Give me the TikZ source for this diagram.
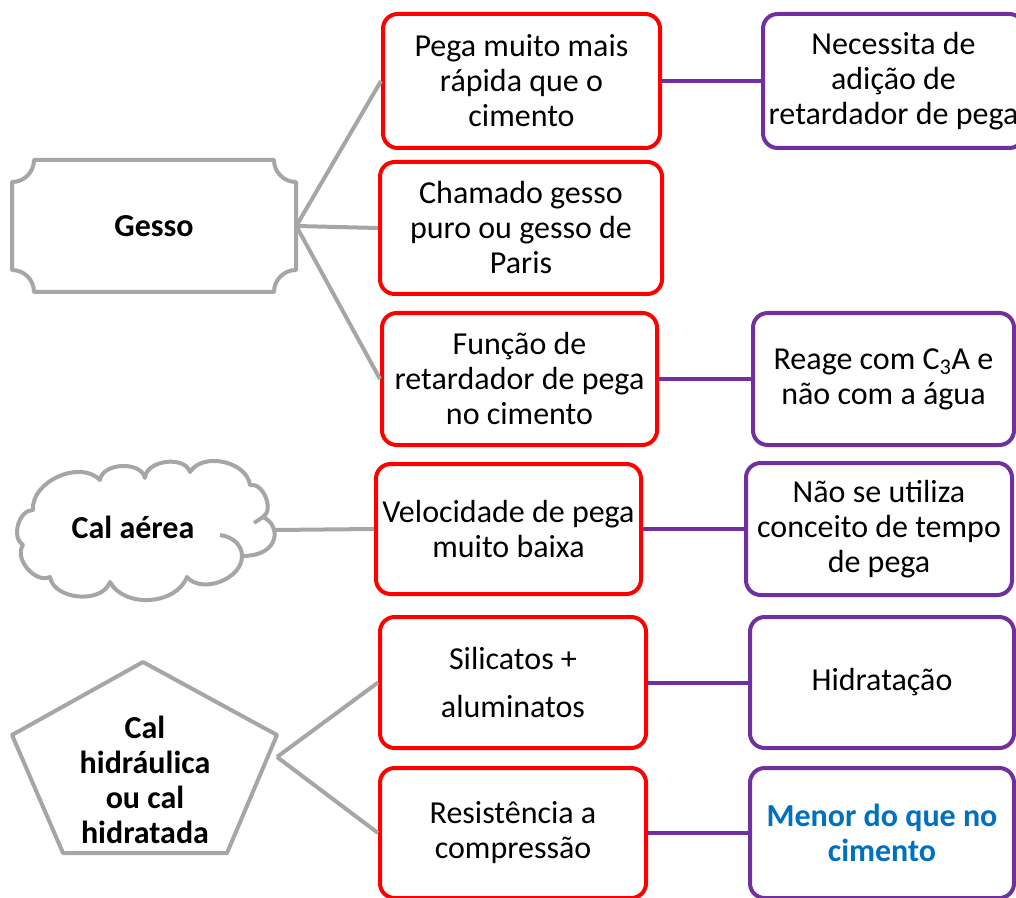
\documentclass[tikz,border=0pt]{standalone}
\usepackage{fontspec}
\setmainfont{Carlito}
\definecolor{myred}{RGB}{255,0,0}
\definecolor{mypurple}{RGB}{112,48,160}
\definecolor{mygray}{RGB}{166,166,166}
\definecolor{myblue}{RGB}{0,112,192}
\begin{document}
\begin{tikzpicture}[x=0.75pt,y=-0.75pt,
 box/.style={line width=3pt, rounded corners=11pt, inner sep=0pt, align=center, font=\fontsize{24}{26.25}\selectfont},
 sz/.style 2 args={minimum width={#1*0.75pt}, minimum height={#2*0.75pt}},
 redbox/.style={box, draw=myred},
 purplebox/.style={box, draw=mypurple},
 glink/.style={draw=mygray, line width=3pt},
 plink/.style={draw=mypurple, line width=3pt},
 lbl/.style={align=center, font=\fontsize{24}{26.25}\selectfont\bfseries},
 shapeline/.style={draw=mygray, line width=3pt, line join=round}]
\clip (0,0) rectangle (1016,898);
\fill[white] (0,0) rectangle (1016,898);

% left shapes
\node[lbl, sz={284}{132}] (gesso) at (154,226) {Gesso};
\draw[shapeline] (34,160) -- (274,160) arc[start angle=180,end angle=90,radius=22]
  -- (296,270) arc[start angle=270,end angle=180,radius=22]
  -- (34,292) arc[start angle=0,end angle=-90,radius=22]
  -- (12,182) arc[start angle=90,end angle=0,radius=22] -- cycle;

% cloud
\draw[shapeline] (23,545) to[bend left=75] (33,510) to[bend left=70] (100,480)
  to[bend left=80] (145,478) to[bend left=80] (190,472) to[bend left=70] (250,485)
  to[bend left=80] (263,517) .. controls (281,525) and (281,556) .. (242,556)
  to[bend left=70] (187,577)
  to[bend left=65] (110,582) to[bend left=75] (50,577) to[bend left=75] cycle;
\draw[shapeline] (263,517) -- (254,523);
\draw[shapeline] (220,535) .. controls (234,537) and (242,546) .. (242,556);
\node[lbl] (cal) at (133,527) {Cal aérea};
\coordinate (calr) at (274,530);

% pentagon
\draw[shapeline] (143,662) -- (277,735) -- (227,853) -- (63,853) -- (12,735) -- cycle;
\node[lbl] (calh) at (145,780) {Cal\\hidráulica\\ou cal\\hidratada};
\coordinate (ph) at (277,757);

% red boxes
\node[redbox, sz={277}{134}] (r1) at (521.5,81) {Pega muito mais\\rápida que o\\cimento};
\node[redbox, sz={282}{132}] (r2) at (521,228) {Chamado gesso\\puro ou gesso de\\Paris};
\node[redbox, sz={275}{132}] (r3) at (519.5,379) {Função de\\retardador de pega\\no cimento};
\node[redbox, sz={265}{130}] (r4) at (508.5,529) {Velocidade de pega\\muito baixa};
\node[redbox, sz={266}{131}, font=\fontsize{24}{36}\selectfont] (r5) at (513,682.5) {Silicatos +\\aluminatos};
\node[redbox, sz={266}{130}] (r6) at (513,833) {Resistência a\\compressão};

% purple boxes
\node[purplebox, sz={261}{134}] (p1) at (893.5,81) {Necessita de\\adição de\\retardador de pega};
\node[purplebox, sz={261}{132}] (p2) at (883.5,379) {Reage com C\textsubscript{3}A e\\não com a água};
\node[purplebox, sz={266}{132}] (p3) at (879,529) {Não se utiliza\\conceito de tempo\\de pega};
\node[purplebox, sz={264}{131}] (p4) at (882,682.5) {Hidratação};
\node[purplebox, sz={264}{130}, text=myblue, font=\fontsize{24}{26.25}\selectfont\bfseries] (p5) at (882,833) {Menor do que no\\cimento};

% gray connectors
\draw[glink] (gesso.east) -- (r1.west);
\draw[glink] (gesso.east) -- (r2.west);
\draw[glink] (gesso.east) -- (r3.west);
\draw[glink] (calr) -- (r4.west);
\draw[glink] (ph) -- (r5.west);
\draw[glink] (ph) -- (r6.west);

% purple connectors
\draw[plink] (r1.east) -- (p1.west);
\draw[plink] (r3.east) -- (p2.west);
\draw[plink] (r4.east) -- (p3.west);
\draw[plink] (r5.east) -- (p4.west);
\draw[plink] (r6.east) -- (p5.west);
\end{tikzpicture}
\end{document}
